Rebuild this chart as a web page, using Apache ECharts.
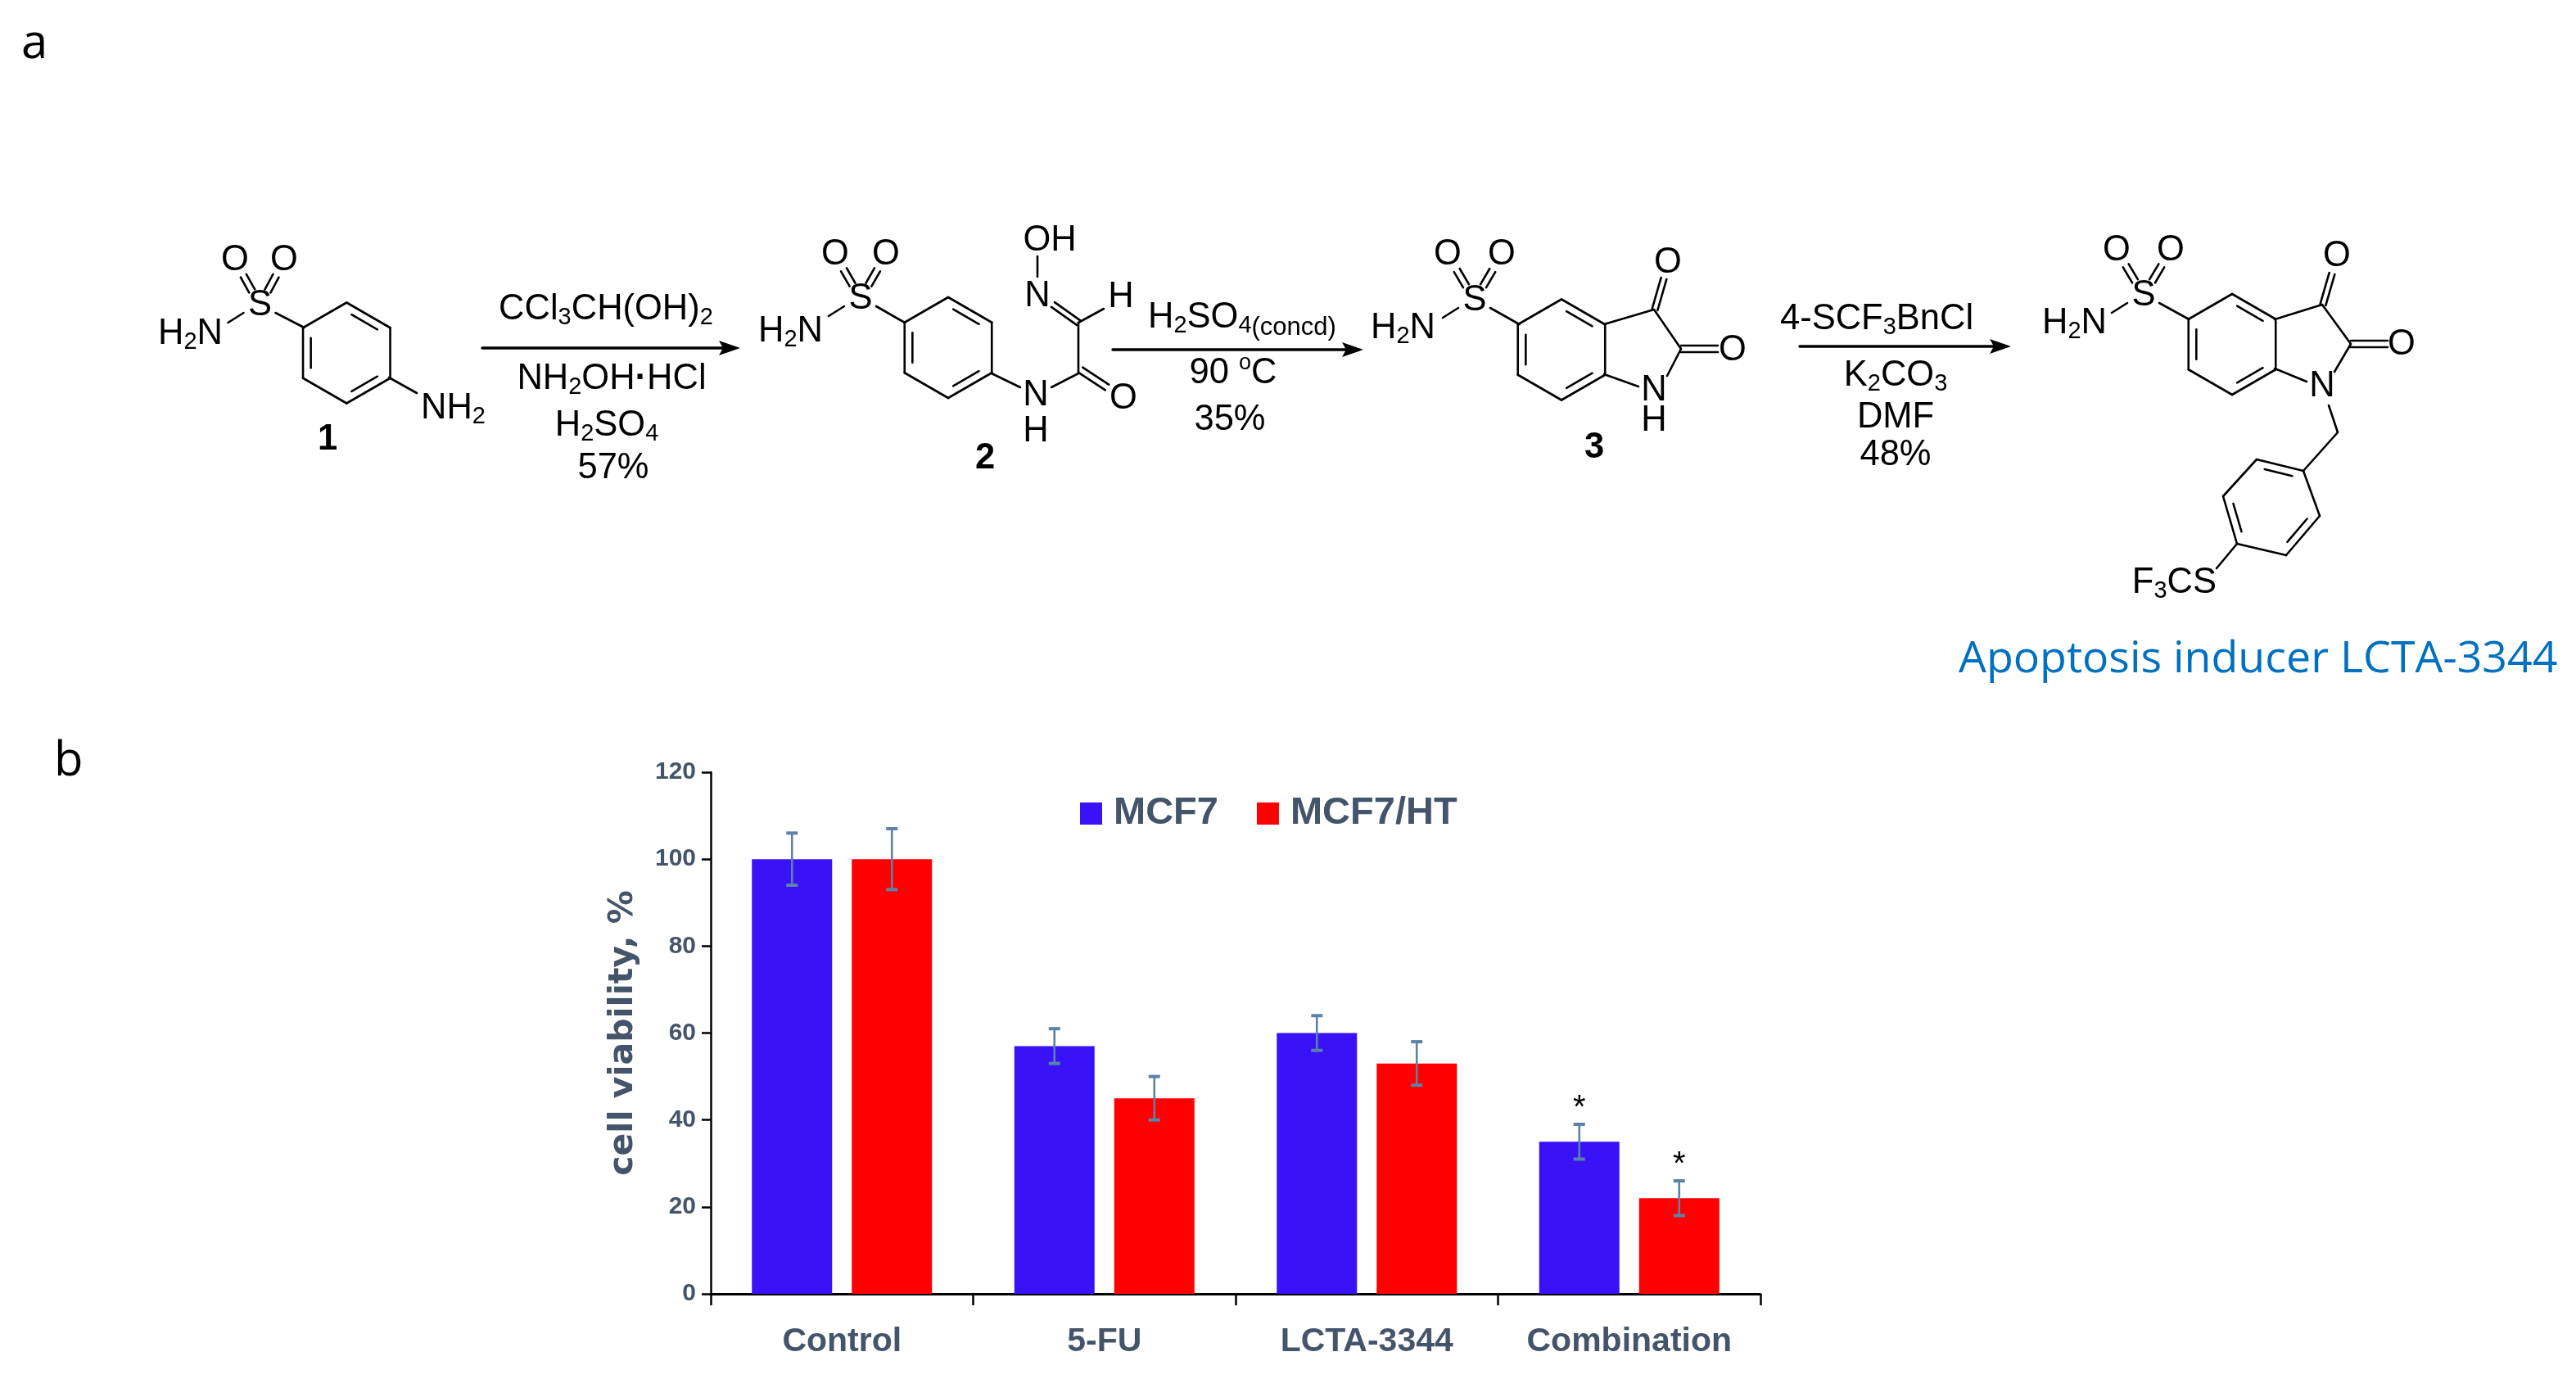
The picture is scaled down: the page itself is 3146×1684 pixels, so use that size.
<!DOCTYPE html>
<html>
<head>
<meta charset="utf-8">
<style>html,body{margin:0;padding:0;background:#fff}#container{width:3146px;height:1684px}</style>
<script src="https://cdn.jsdelivr.net/npm/echarts@6/dist/echarts.min.js"></script>
</head>
<body>
<div id="container"></div>
<script>
// bar chart values
var categories = ['Control', '5-FU', 'LCTA-3344', 'Combination'];
var mcf7 = [100, 57, 60, 35];
var mcf7Err = [6, 4, 4, 4];
var mcf7Star = [0, 0, 0, 1];
var mcf7ht = [100, 45, 53, 22];
var mcf7htErr = [7, 5, 5, 4];
var mcf7htStar = [0, 0, 0, 1];

var blue = '#3A12F8';
var red = '#FF0000';
var slate = '#44546A';
var errColor = '#5B83A8';
var barW = 98;
var barGapPx = 24;
var sans = '"Liberation Sans", Arial, sans-serif';

var myChart = echarts.init(document.getElementById('container'));

// ---- scheme (panel a) drawn as plain graphic elements ----
var g = [];
var rich = {
    t: {fontSize: 43.5, fontFamily: sans, color: '#000'},
    s: {fontSize: 29, fontFamily: sans, color: '#000', padding: [19, 0, 0, 0]},
    u: {fontSize: 27, fontFamily: sans, color: '#000', padding: [0, 0, 24, 0]},
    c: {fontSize: 31, fontFamily: sans, color: '#000', padding: [24, 0, 0, 0]},
    d: {fontSize: 43.5, fontFamily: sans, fontWeight: 'bold', color: '#000'}
};
function line(x1, y1, x2, y2, w) {
    g.push({type: 'line', silent: true, shape: {x1: x1, y1: y1, x2: x2, y2: y2},
        style: {stroke: '#000', lineWidth: w || 2.6, lineCap: 'round'}});
}
function dbl(x1, y1, x2, y2, off) {
    var dx = x2 - x1, dy = y2 - y1, l = Math.sqrt(dx * dx + dy * dy);
    var nx = -dy / l * off, ny = dx / l * off;
    line(x1 + nx, y1 + ny, x2 + nx, y2 + ny);
    line(x1 - nx, y1 - ny, x2 - nx, y2 - ny);
}
function txt(x, y, s, align, bold) {
    g.push({type: 'text', silent: true, style: {x: x, y: y, text: s, rich: rich,
        fontSize: 43.5, fontWeight: bold ? 'bold' : 'normal', fontFamily: sans, fill: '#000',
        align: align || 'center', verticalAlign: 'middle'}});
}
function ring(v) {
    var cx = 0, cy = 0, i;
    for (i = 0; i < 6; i++) { cx += v[i][0] / 6; cy += v[i][1] / 6; }
    for (i = 0; i < 6; i++) {
        var a = v[i], b = v[(i + 1) % 6];
        line(a[0], a[1], b[0], b[1]);
        if (i % 2 == 0) {
            var k = 0.82, lo = 0.14, hi = 0.86;
            var ax = cx + (a[0] - cx) * k, ay = cy + (a[1] - cy) * k;
            var bx = cx + (b[0] - cx) * k, by = cy + (b[1] - cy) * k;
            line(ax + (bx - ax) * lo, ay + (by - ay) * lo, ax + (bx - ax) * hi, ay + (by - ay) * hi);
        }
    }
}
function flatRing(cx, cy, r) {
    var hw = r * 0.866;
    return [[cx, cy - r], [cx + hw, cy - r / 2], [cx + hw, cy + r / 2], [cx, cy + r], [cx - hw, cy + r / 2], [cx - hw, cy - r / 2]];
}
// SO2NH2 group: S position, the two O, the ring atom, right end of the H2N text
function sulfonamide(sx, sy, ox1, ox2, oy, rx, ry, nx, ny) {
    txt(sx, sy, 'S');
    txt(ox1, oy, 'O');
    txt(ox2, oy, 'O');
    txt(nx, ny, '{t|H}{s|2}{t|N}', 'right');
    line(sx + 19, sy + 9, rx, ry);
    line(sx - 20, sy + 9, sx - 39, sy + 21);
    dbl(sx + (ox1 - sx) * 0.32, sy + (oy - sy) * 0.32, sx + (ox1 - sx) * 0.66, sy + (oy - sy) * 0.66, 4);
    dbl(sx + (ox2 - sx) * 0.32, sy + (oy - sy) * 0.32, sx + (ox2 - sx) * 0.66, sy + (oy - sy) * 0.66, 4);
}
function arrow(x1, x2, y) {
    line(x1, y, x2 - 14, y, 3.4);
    g.push({type: 'polygon', silent: true, shape: {points: [[x2, y], [x2 - 26, y - 9], [x2 - 21, y], [x2 - 26, y + 9]]},
        style: {fill: '#000'}});
}

// panel letters
g.push({type: 'text', silent: true, style: {x: 26, y: 54, text: 'a', fontSize: 58, fontFamily: '"Open Sans", sans-serif', fill: '#000', align: 'left', verticalAlign: 'middle'}});
g.push({type: 'text', silent: true, style: {x: 66, y: 930, text: 'b', fontSize: 58, fontFamily: '"Open Sans", sans-serif', fill: '#000', align: 'left', verticalAlign: 'middle'}});

// compound 1
ring(flatRing(423.3, 431, 61.5));
sulfonamide(317.5, 373, 287, 347, 318, 371.4, 400, 272, 408);
line(475, 461, 509, 480);
txt(514, 499, '{t|NH}{s|2}', 'left');
txt(400, 537, '1', 'center', true);

// arrow 1
arrow(589, 904, 425);
txt(740, 378, '{t|CCl}{s|3}{t|CH(OH)}{s|2}');
txt(747, 463, '{t|NH}{s|2}{t|OH}{d|·}{t|HCl}');
txt(741, 520, '{t|H}{s|2}{t|SO}{s|4}');
txt(749, 572, '57%');

// compound 2
ring(flatRing(1158, 424.5, 61.5));
sulfonamide(1051, 365, 1020, 1082, 311, 1105, 394, 1005, 405);
txt(1265, 483, 'N');
txt(1265, 527, 'H');
line(1211, 456, 1246, 473);
line(1284, 473, 1317, 456);
dbl(1320, 452, 1352, 473, 4);
line(1317, 456, 1317, 394);
dbl(1317, 394, 1286, 372, 3.5);
txt(1372, 487, 'O');
txt(1267, 362, 'N');
txt(1282, 294, 'OH');
line(1267, 313, 1267, 338);
line(1317, 394, 1348, 377);
txt(1369, 363, 'H');
txt(1203, 560, '2', 'center', true);

// arrow 2
arrow(1359, 1665, 427);
txt(1402, 388, '{t|H}{s|2}{t|SO}{s|4}{c|(concd)}', 'left');
txt(1506, 456, '{t|90 }{u|o}{t|C}');
txt(1502, 513, '35%');

// compound 3
ring(flatRing(1907, 427, 61.5));
sulfonamide(1801, 367, 1768, 1834, 311, 1855.5, 396, 1753, 401);
line(1959, 396, 2020, 378);
line(2020, 378, 2053, 426);
line(2053, 426, 2036, 459);
line(1959, 457, 2001, 472);
dbl(2021, 378, 2032, 340, 3.5);
dbl(2053, 426, 2098, 426, 4);
txt(2020, 477, 'N');
txt(2020, 514, 'H');
txt(2037, 321, 'O');
txt(2116, 428, 'O');
txt(1947, 547, '3', 'center', true);

// arrow 3
arrow(2198, 2456, 423);
txt(2292, 390, '{t|4-SCF}{s|3}{t|BnCl}');
txt(2315, 459, '{t|K}{s|2}{t|CO}{s|3}');
txt(2315, 510, 'DMF');
txt(2315, 556, '48%');

// LCTA-3344
ring(flatRing(2726, 420.5, 61.5));
sulfonamide(2618, 361, 2585, 2651, 305.5, 2673.5, 390, 2573, 395);
line(2778, 390, 2836, 372);
line(2836, 372, 2871, 420);
line(2871, 420, 2851, 454);
line(2778, 450, 2817, 466);
dbl(2837, 372, 2848, 334, 3.5);
dbl(2871, 420, 2916, 420, 4);
txt(2836, 472, 'N');
txt(2854, 313, 'O');
txt(2933, 421, 'O');
line(2844, 495, 2855, 528);
line(2855, 528, 2813, 575);
ring([[2813, 575], [2756, 561], [2715, 606], [2732, 664], [2792, 678], [2833, 630]]);
line(2732, 664, 2707, 694);
txt(2707, 712, '{t|F}{s|3}{t|CS}', 'right');
g.push({type: 'text', silent: true, style: {x: 2392, y: 806, text: 'Apoptosis inducer LCTA-3344', fontSize: 53.7,
    fontFamily: '"Open Sans", sans-serif', fill: '#0070C0', align: 'left', verticalAlign: 'middle'}});

// ---- error bars ----
function errSeries(name, vals, errs, stars, shift) {
    var data = categories.map(function (c, i) { return [i, vals[i] - errs[i], vals[i] + errs[i], stars[i]]; });
    return {
        name: name + ' err',
        type: 'custom',
        z: 5,
        data: data,
        encode: {x: 0, y: [1, 2]},
        renderItem: function (params, api) {
            var lo = api.coord([api.value(0), api.value(1)]);
            var hi = api.coord([api.value(0), api.value(2)]);
            var x = lo[0] + shift, cap = 7;
            var st = {stroke: errColor, lineWidth: 2.6};
            var kids = [
                {type: 'line', shape: {x1: x, y1: lo[1], x2: x, y2: hi[1]}, style: st},
                {type: 'line', shape: {x1: x - cap, y1: lo[1], x2: x + cap, y2: lo[1]}, style: {stroke: errColor, lineWidth: 4}},
                {type: 'line', shape: {x1: x - cap, y1: hi[1], x2: x + cap, y2: hi[1]}, style: {stroke: errColor, lineWidth: 4}}
            ];
            if (api.value(3)) {
                kids.push({type: 'text', style: {x: x, y: hi[1] - 19, text: '*', fontSize: 40, fontFamily: sans,
                    fill: '#000', align: 'center', verticalAlign: 'middle'}});
            }
            return {type: 'group', children: kids};
        }
    };
}

var shift = (barW + barGapPx) / 2;
var option = {
    backgroundColor: '#fff',
    animation: false,
    grid: {left: 868, right: 996, top: 943, bottom: 104, containLabel: false},
    legend: {
        left: 1319, top: 970,
        padding: 0,
        data: ['MCF7', 'MCF7/HT'],
        itemWidth: 27, itemHeight: 27, itemGap: 47,
        icon: 'rect',
        selectedMode: false,
        formatter: '{name}',
        textStyle: {color: slate, fontSize: 47, fontWeight: 'bold', fontFamily: sans, padding: [0, 0, 0, 9]}
    },
    xAxis: {
        type: 'category',
        data: categories,
        axisLine: {lineStyle: {color: '#000', width: 3}},
        axisTick: {show: true, interval: 0, length: 14, lineStyle: {color: '#000', width: 2.5}},
        axisLabel: {color: slate, fontSize: 41, fontWeight: 'bold', fontFamily: sans, margin: 38, interval: 0}
    },
    yAxis: {
        type: 'value',
        min: 0, max: 120, interval: 20,
        name: 'cell viability, %',
        nameLocation: 'middle',
        nameRotate: 90,
        nameGap: 86,
        nameTextStyle: {color: slate, fontSize: 41, fontWeight: 'bold', fontFamily: '"DejaVu Sans", sans-serif'},
        splitLine: {show: false},
        axisLine: {show: true, lineStyle: {color: '#000', width: 2.5}},
        axisTick: {show: true, length: 11, lineStyle: {color: '#000', width: 2.5}},
        axisLabel: {color: slate, fontSize: 30, fontWeight: 'bold', fontFamily: sans, margin: 18}
    },
    series: [
        {name: 'MCF7', type: 'bar', data: mcf7, barWidth: barW, barGap: (barGapPx / barW * 100) + '%', itemStyle: {color: blue}},
        {name: 'MCF7/HT', type: 'bar', data: mcf7ht, barWidth: barW, itemStyle: {color: red}},
        errSeries('MCF7', mcf7, mcf7Err, mcf7Star, -shift),
        errSeries('MCF7/HT', mcf7ht, mcf7htErr, mcf7htStar, shift)
    ],
    graphic: g
};
myChart.setOption(option, true);
</script>
</body>
</html>
